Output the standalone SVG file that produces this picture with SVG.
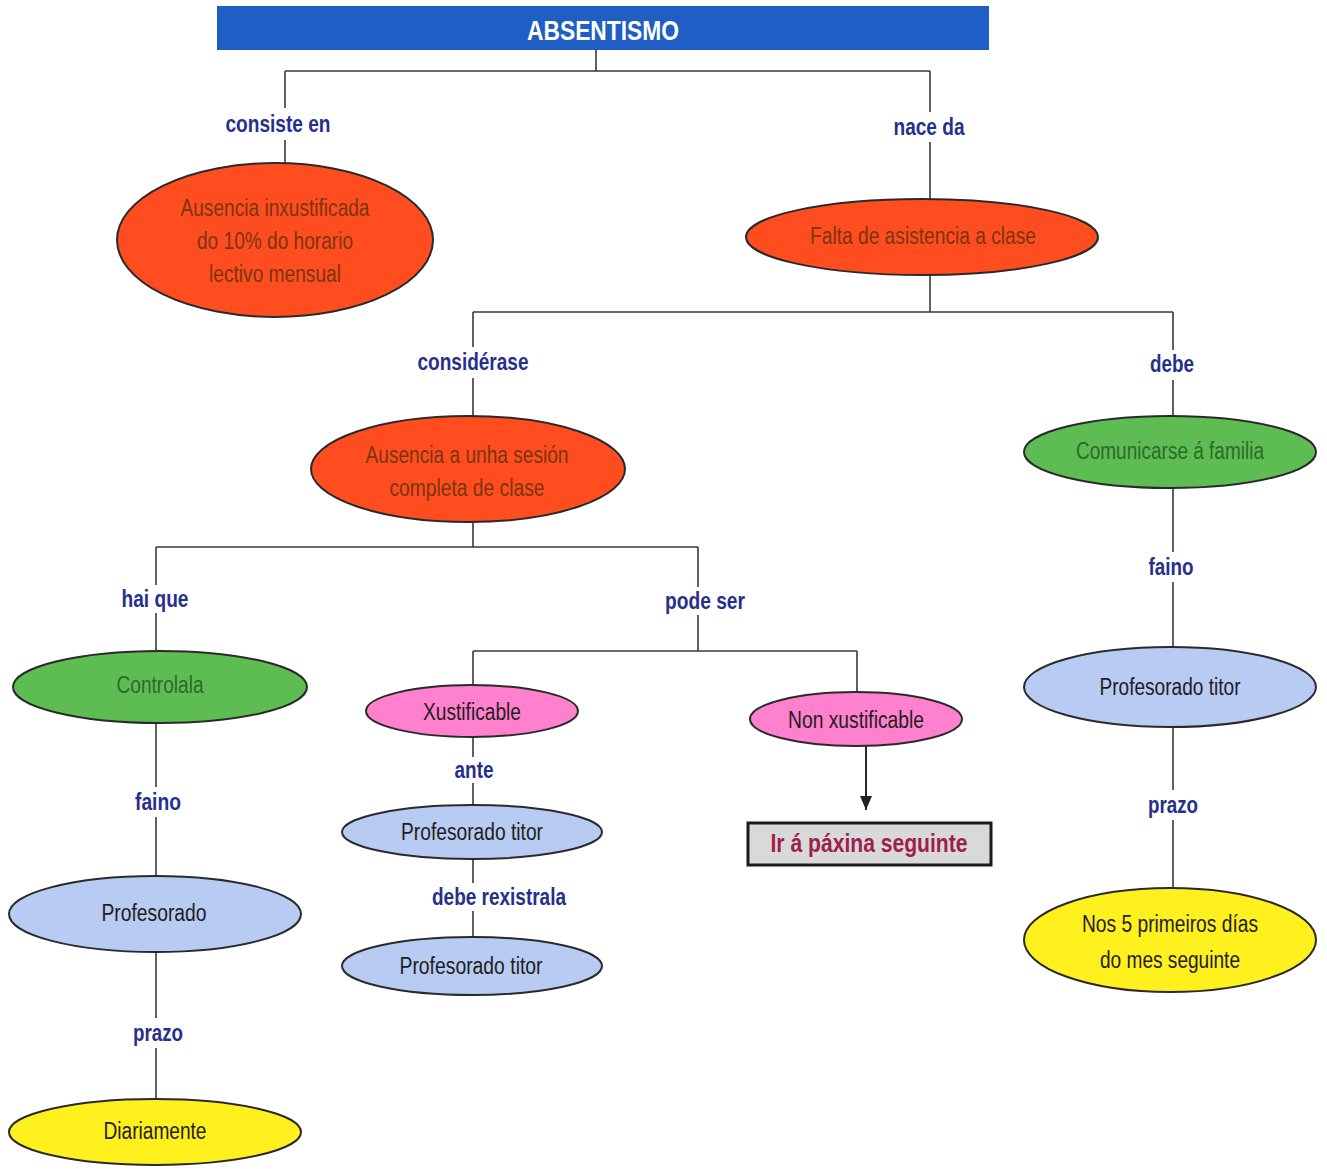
<svg xmlns="http://www.w3.org/2000/svg" width="1327" height="1169" viewBox="0 0 1327 1169">
<defs>
<marker id="arr" viewBox="0 0 14 12" refX="14" refY="6" markerWidth="14" markerHeight="12" orient="auto" markerUnits="userSpaceOnUse"><path d="M0,0 L14,6 L0,12 z" fill="#222"/></marker>
</defs>
<style>
.bg{fill:#ffffff}
.ln{stroke:#3a3a3a;stroke-width:1.6;fill:none}
.el{stroke:#2a2a2a;stroke-width:2}
.or{fill:#ff4d20}
.gr{fill:#5dbd52}
.bl{fill:#b8cbf3}
.pk{fill:#ff80cc}
.ye{fill:#fff01e}
.t{font-family:"Liberation Sans",Arial,sans-serif;font-size:23px;text-anchor:middle;dominant-baseline:central}
.to{fill:#7a3510}
.tg{fill:#2c6a2c}
.tk{fill:#1e1e1e}
.lb{font-family:"Liberation Sans",Arial,sans-serif;font-size:23px;font-weight:bold;fill:#26308c;text-anchor:middle;dominant-baseline:central}
</style>
<rect class="bg" x="0" y="0" width="1327" height="1169"/>
<g id="connectors">
<path class="ln" d="M596,50 V71 M285,71 H930 M285,71 V108 M285,140 V163 M930,71 V112 M930,142 V203"/>
<path class="ln" d="M930,275 V312 M473,312 H1173 M473,312 V347 M473,378 V417 M1173,312 V350 M1173,380 V418"/>
<path class="ln" d="M473,522 V547 M156,547 H698 M156,547 V585 M156,613 V651 M698,547 V587 M698,615 V651 M473,651 H857 M473,651 V685 M857,651 V692"/>
<path class="ln" d="M156,723 V787 M156,817 V876 M156,952 V1018 M156,1048 V1099"/>
<path class="ln" d="M473,737 V757 M473,783 V805 M473,859 V883 M473,911 V937"/>
<path class="ln" d="M1173,488 V552 M1173,582 V647 M1173,727 V790 M1173,820 V888"/>
<line x1="866" y1="746" x2="866" y2="810" stroke="#2a2a2a" stroke-width="2" marker-end="url(#arr)"/>
<text class="lb" x="278" y="124" textLength="105" lengthAdjust="spacingAndGlyphs">consiste en</text>
<text class="lb" x="929" y="127" textLength="71" lengthAdjust="spacingAndGlyphs">nace da</text>
<text class="lb" x="473" y="362" textLength="111" lengthAdjust="spacingAndGlyphs">considérase</text>
<text class="lb" x="1172" y="364" textLength="44" lengthAdjust="spacingAndGlyphs">debe</text>
<text class="lb" x="155" y="599" textLength="67" lengthAdjust="spacingAndGlyphs">hai que</text>
<text class="lb" x="705" y="601" textLength="80" lengthAdjust="spacingAndGlyphs">pode ser</text>
<text class="lb" x="158" y="802" textLength="46" lengthAdjust="spacingAndGlyphs">faino</text>
<text class="lb" x="158" y="1033" textLength="50" lengthAdjust="spacingAndGlyphs">prazo</text>
<text class="lb" x="474" y="770" textLength="39" lengthAdjust="spacingAndGlyphs">ante</text>
<text class="lb" x="499" y="897" textLength="134" lengthAdjust="spacingAndGlyphs">debe rexistrala</text>
<text class="lb" x="1171" y="567" textLength="45" lengthAdjust="spacingAndGlyphs">faino</text>
<text class="lb" x="1173" y="805" textLength="50" lengthAdjust="spacingAndGlyphs">prazo</text>
</g>
<g id="title">
<rect x="217" y="6" width="772" height="44" fill="#1f5ec4"/>
<text x="603" y="30" font-family="Liberation Sans,Arial,sans-serif" font-size="28" font-weight="bold" fill="#ffffff" text-anchor="middle" dominant-baseline="central" textLength="152" lengthAdjust="spacingAndGlyphs">ABSENTISMO</text>
</g>
<g id="n-ausencia">
<ellipse class="el or" cx="275" cy="240" rx="158" ry="77"/>
<text class="t to" x="275" y="208" textLength="189" lengthAdjust="spacingAndGlyphs">Ausencia inxustificada</text>
<text class="t to" x="275" y="241" textLength="156" lengthAdjust="spacingAndGlyphs">do 10% do horario</text>
<text class="t to" x="275" y="274" textLength="132" lengthAdjust="spacingAndGlyphs">lectivo mensual</text>
</g>
<g id="n-falta">
<ellipse class="el or" cx="922" cy="237" rx="176" ry="38"/>
<text class="t to" x="923" y="236" textLength="226" lengthAdjust="spacingAndGlyphs">Falta de asistencia a clase</text>
</g>
<g id="n-sesion">
<ellipse class="el or" cx="468" cy="469" rx="157" ry="53"/>
<text class="t to" x="467" y="455" textLength="203" lengthAdjust="spacingAndGlyphs">Ausencia a unha sesión</text>
<text class="t to" x="467" y="488" textLength="155" lengthAdjust="spacingAndGlyphs">completa de clase</text>
</g>
<g id="n-comunicarse">
<ellipse class="el gr" cx="1170" cy="452" rx="146" ry="36"/>
<text class="t tg" x="1170" y="451" textLength="188" lengthAdjust="spacingAndGlyphs">Comunicarse á familia</text>
</g>
<g id="n-controlala">
<ellipse class="el gr" cx="160" cy="687" rx="147" ry="36"/>
<text class="t tg" x="160" y="685" textLength="87" lengthAdjust="spacingAndGlyphs">Controlala</text>
</g>
<g id="n-profesorado">
<ellipse class="el bl" cx="155" cy="914" rx="146" ry="38"/>
<text class="t tk" x="154" y="913" textLength="105" lengthAdjust="spacingAndGlyphs">Profesorado</text>
</g>
<g id="n-diariamente">
<ellipse class="el ye" cx="155" cy="1132" rx="146" ry="33"/>
<text class="t tk" x="155" y="1131" textLength="103" lengthAdjust="spacingAndGlyphs">Diariamente</text>
</g>
<g id="n-xustificable">
<ellipse class="el pk" cx="472" cy="711" rx="106" ry="26"/>
<text class="t tk" x="472" y="712" textLength="98" lengthAdjust="spacingAndGlyphs">Xustificable</text>
</g>
<g id="n-titor1">
<ellipse class="el bl" cx="472" cy="832" rx="130" ry="27"/>
<text class="t tk" x="472" y="832" textLength="142" lengthAdjust="spacingAndGlyphs">Profesorado titor</text>
</g>
<g id="n-titor2">
<ellipse class="el bl" cx="472" cy="966" rx="130" ry="29"/>
<text class="t tk" x="471" y="966" textLength="143" lengthAdjust="spacingAndGlyphs">Profesorado titor</text>
</g>
<g id="n-nonxustificable">
<ellipse class="el pk" cx="856" cy="719" rx="106" ry="27"/>
<text class="t tk" x="856" y="720" textLength="136" lengthAdjust="spacingAndGlyphs">Non xustificable</text>
</g>
<g id="n-irpaxina">
<rect x="748" y="823" width="243" height="42" fill="#d9d9d9" stroke="#1a1a1a" stroke-width="3"/>
<text x="869" y="843" font-family="Liberation Sans,Arial,sans-serif" font-size="25" font-weight="bold" fill="#9e1f4c" text-anchor="middle" dominant-baseline="central" textLength="197" lengthAdjust="spacingAndGlyphs">Ir á páxina seguinte</text>
</g>
<g id="n-titor3">
<ellipse class="el bl" cx="1170" cy="687" rx="146" ry="40"/>
<text class="t tk" x="1170" y="687" textLength="141" lengthAdjust="spacingAndGlyphs">Profesorado titor</text>
</g>
<g id="n-nos5">
<ellipse class="el ye" cx="1170" cy="940" rx="146" ry="52"/>
<text class="t tk" x="1170" y="924" textLength="176" lengthAdjust="spacingAndGlyphs">Nos 5 primeiros días</text>
<text class="t tk" x="1170" y="960" textLength="140" lengthAdjust="spacingAndGlyphs">do mes seguinte</text>
</g>
</svg>
